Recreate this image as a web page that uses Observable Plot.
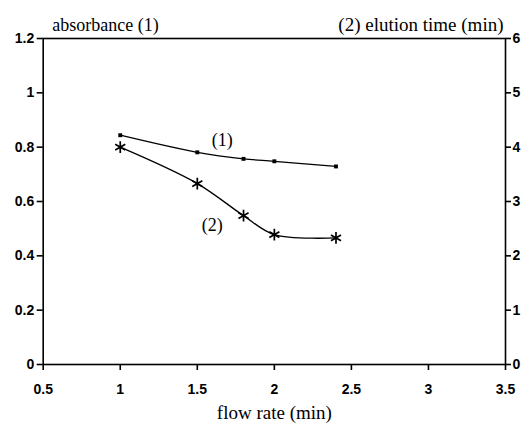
<!DOCTYPE html>
<html><head><meta charset="utf-8">
<script src="https://cdn.jsdelivr.net/npm/d3@7"></script>
<script src="https://cdn.jsdelivr.net/npm/@observablehq/plot@0.6"></script>
<style>body{margin:0;background:#fff}</style>
</head><body><div id="chart"></div>
<script>
const flowRate = [1.0, 1.5, 1.8, 2.0, 2.4];
const absorbance = [0.844, 0.781, 0.757, 0.748, 0.729];
const elutionTime = [4.0, 3.33, 2.74, 2.39, 2.33];
const xTicks = [0.5, 1, 1.5, 2, 2.5, 3, 3.5];
const yLeftTicks = [0, 0.2, 0.4, 0.6, 0.8, 1, 1.2];
const yRightTicks = [0, 1, 2, 3, 4, 5, 6];
const rightMax = 6, leftMax = 1.2;
const k = leftMax / rightMax;

const s1 = flowRate.map((x, i) => ({x, y: absorbance[i]}));
const s2 = flowRate.map((x, i) => ({x, y: elutionTime[i] * k}));
const labels = [{x: 1.662, y: 0.824, t: "(1)"}, {x: 1.597, y: 0.512, t: "(2)"}];

const serifFont = {fontFamily: "Liberation Serif", fontSize: 19};
const tickFont = {fontFamily: "Liberation Sans", fontWeight: "bold", fontSize: 14};
const plot = Plot.plot({
  width: 523, height: 424,
  marginLeft: 42.7, marginRight: 18, marginTop: 38, marginBottom: 60,
  style: {color: "#000"},
  x: {domain: [0.5, 3.5]},
  y: {domain: [0, 1.2]},
  marks: [
    Plot.frame({stroke: "#000", strokeWidth: 1.6}),
    Plot.axisX(xTicks, {tickSize: 6, tickPadding: 14, strokeWidth: 1.6, ...tickFont, tickFormat: d => String(d), label: null}),
    Plot.axisY(yLeftTicks, {anchor: "left", tickSize: 6, tickPadding: 3, strokeWidth: 1.6, ...tickFont, tickFormat: d => String(d), label: null}),
    Plot.axisY(yRightTicks.map(d => d * k), {anchor: "right", tickSize: 5, tickPadding: 2, strokeWidth: 1.6, ...tickFont, tickFormat: d => String(Math.round(d / k)), label: null}),
    Plot.line(s1, {x: "x", y: "y", curve: "catmull-rom", stroke: "#000", strokeWidth: 1.3}),
    Plot.dot(s1, {x: "x", y: "y", symbol: "square", r: 2.2, fill: "#000"}),
    Plot.line(s2, {x: "x", y: "y", curve: "catmull-rom", stroke: "#000", strokeWidth: 1.3}),
    Plot.dot(s2, {x: "x", y: "y", symbol: "asterisk", r: 5.5, stroke: "#000", strokeWidth: 1.7}),
    Plot.text(labels, {x: "x", y: "y", text: "t", ...serifFont, fontSize: 18}),
    Plot.text(["absorbance (1)"], {frameAnchor: "top-left", lineAnchor: "bottom", dx: 9, dy: -8, textAnchor: "start", ...serifFont, fontSize: 18}),
    Plot.text(["(2) elution time (min)"], {frameAnchor: "top-right", lineAnchor: "bottom", dx: -2, dy: -8, textAnchor: "end", ...serifFont}),
    Plot.text(["flow rate (min)"], {frameAnchor: "bottom", lineAnchor: "bottom", dy: 54, ...serifFont})
  ]
});
document.getElementById("chart").append(plot);
</script></body></html>
